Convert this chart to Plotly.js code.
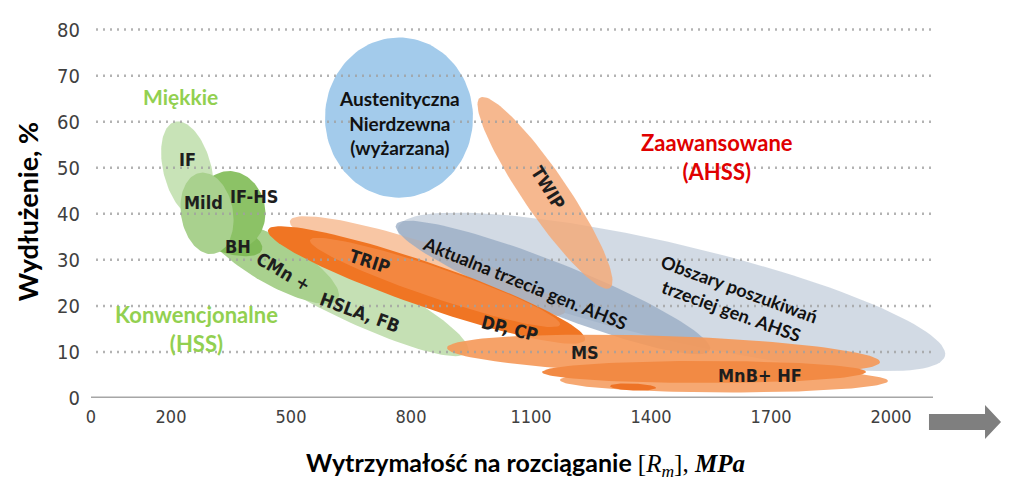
<!DOCTYPE html>
<html><head><meta charset="utf-8">
<script src="https://cdn.plot.ly/plotly-3.0.1.min.js"></script>
<style>html,body{margin:0;padding:0;background:#fff}#chart{width:1024px;height:496px}</style>
</head><body><div id="chart"></div>
<script>
// ---- data: steel grade regions (major-axis end points: tensile strength MPa, elongation %) ----
const regionNames = ["IF","HSLA, FB","CMn +","BH","IF-HS","Mild","Obszary 3. gen.","TRIP","Aktualna 3. gen.","DP, CP","TRIP core","TWIP","Austenityczna","MS","HF","MnB","MnB tail"];
const regionRm1   = [210, 310, 285, 247.5, 327.5, 272.5, 767.5, 497.5, 762.5, 442.5, 547.5, 972.5, 770, 890, 1172.5, 1127.5, 1297.5];
const regionA1    = [60, 37, 38.3, 37.4, 49.1, 48.9, 36.96, 38.5, 37.6, 36.5, 34.3, 65.2, 78.3, 10.9, 3.9, 5.65, 2.6];
const regionRm2   = [272.5, 942.5, 617.5, 427.5, 377.5, 307.5, 2135, 1185, 1547.5, 1235, 1172.5, 1297.5, 770, 1972.5, 1992.5, 1937.5, 1412.5];
const regionA2    = [39.1, 10, 21.5, 32.2, 32.6, 31.3, 9.13, 18.7, 10.4, 12.6, 15.9, 23.9, 43.5, 7.8, 3.7, 5.65, 2.2];

// ---- labels ----
const labelText = ["IF","Mild","IF-HS","BH","CMn +","HSLA, FB","TRIP","DP, CP","MS","MnB+ HF","TWIP"];
const labelRm   = [240, 280, 407.5, 367.5, 480, 672.5, 697.5, 1047.5, 1235, 1672.5, 1142.5];
const labelA    = [51.7, 42.4, 43.7, 33.0, 27.4, 18.5, 29.6, 15.2, 9.8, 4.8, 45.7];
const groupText = ["Austenityczna<br>Nierdzewna<br>(wyżarzana)","Aktualna trzecia gen. AHSS","Obszary poszukiwań<br>trzeciej gen. AHSS","Miękkie","Konwencjonalne<br>(HSS)","Zaawansowane<br>(AHSS)"];
const groupRm   = [770, 1085, 1610, 222.5, 262.5, 1565];
const groupA    = [59.8, 25, 21.3, 65.4, 15.0, 52.3];

const xTicks = [0,200,500,800,1100,1400,1700,2000];
const yTicks = [0,10,20,30,40,50,60,70,80];

// ---- styles ----
const regionHalfWidthPx = [24, 26, 23, 15, 33, 26, 48, 22, 25, 22, 15, 22, 74, 19, 12, 11, 3.5];
const regionColors = ["rgba(190,222,170,0.85)","#c5e0b4","#a9d18e","#80ba58","#8cc266","#a9d18e","rgba(205,214,225,0.9)","#f8c6a4","rgba(150,170,195,0.75)","#f07523","rgba(249,170,120,0.35)","rgba(244,168,118,0.82)","#a3cbeb","rgba(245,152,88,0.9)","#f6a872","#f28a44","#ee7326"];
const labelAngle = [0,0,0,0,30,20,18,14,0,0,58];
const groupAngle = [0,22,20,0,0,0];
const groupColor = ["#111","#111","#111","#92d050","#92d050","#e00000"];
const groupSize  = [19,18,18,21,22,22];

const M = {l:91, r:64, t:25, b:98};
const W = 1024, H = 496;
const xRange = [0, (W - M.l - M.r) * 2.5];
const yRange = [0, 81];
const kx = (W - M.l - M.r) / (xRange[1] - xRange[0]);
const ky = (H - M.t - M.b) / (yRange[1] - yRange[0]);

function ellipse(x1,y1,x2,y2,hw){
  const X1=x1*kx, Y1=y1*ky, X2=x2*kx, Y2=y2*ky;
  const cx=(X1+X2)/2, cy=(Y1+Y2)/2;
  const L=Math.hypot(X2-X1,Y2-Y1)/2, th=Math.atan2(Y2-Y1,X2-X1);
  const xs=[],ys=[];
  for(let i=0;i<=120;i++){
    const t=i/120*2*Math.PI;
    const px=cx+L*Math.cos(t)*Math.cos(th)-hw*Math.sin(t)*Math.sin(th);
    const py=cy+L*Math.cos(t)*Math.sin(th)+hw*Math.sin(t)*Math.cos(th);
    xs.push(px/kx); ys.push(py/ky);
  }
  return {xs,ys};
}

const traces = regionNames.map((n,i)=>{
  const e = ellipse(regionRm1[i],regionA1[i],regionRm2[i],regionA2[i],regionHalfWidthPx[i]);
  return {type:'scatter',mode:'lines',x:e.xs,y:e.ys,fill:'toself',fillcolor:regionColors[i],
    line:{width:0,color:'rgba(0,0,0,0)'},name:n,hoverinfo:'skip',showlegend:false};
});

const narrow = "DejaVu Sans Condensed, Liberation Sans Narrow, Arial Narrow, Liberation Sans, Arial, sans-serif";
const cal = "Lato, Carlito, Calibri, Open Sans, sans-serif";

const annotations = [];
labelText.forEach((t,i)=>annotations.push({x:labelRm[i],y:labelA[i],xref:'x',yref:'y',text:'<b>'+t+'</b>',showarrow:false,textangle:labelAngle[i],font:{family:narrow,size:18,color:'#1e1e1e'}}));
groupText.forEach((t,i)=>annotations.push({x:groupRm[i],y:groupA[i],xref:'x',yref:'y',text:'<b>'+t+'</b>',showarrow:false,textangle:groupAngle[i],font:{family:cal,size:groupSize[i],color:groupColor[i]},align:'center'}));

const shapes = [];
yTicks.filter(v=>v>0).forEach(v=>shapes.push({type:'line',xref:'x',yref:'y',x0:-5,x1:2105,y0:v,y1:v,layer:'above',line:{color:'rgba(160,160,160,0.8)',width:2.5,dash:'2px,5px'}}));
shapes.push({type:'line',xref:'x',yref:'y',x0:0,x1:2105,y0:0,y1:0,layer:'above',line:{color:'#a6a6a6',width:3}});
// arrow at the end of the x axis (paper coords)
const pw = W - M.l - M.r, ph = H - M.t - M.b;
const P = (px,py)=> ((px-M.l)/pw).toFixed(4)+','+((H-M.b-py)/ph).toFixed(4);
shapes.push({type:'path',xref:'paper',yref:'paper',layer:'above',fillcolor:'#7f7f7f',line:{width:0},
  path:'M'+P(929,414)+' L'+P(985,414)+' L'+P(985,405)+' L'+P(1001,422)+' L'+P(985,439)+' L'+P(985,430)+' L'+P(929,430)+' Z'});

const layout = {
  width:W, height:H, margin:M, paper_bgcolor:'#fff', plot_bgcolor:'#fff',
  xaxis:{range:xRange, tickvals:xTicks, ticktext:xTicks.map(String), showgrid:false, zeroline:false, showline:false,
    ticks:'', ticklabelstandoff:6, tickfont:{family:narrow,size:18,color:'#404040'},
    title:{text:'<b>Wytrzymałość na rozciąganie </b><span style="font-family:Liberation Serif">[<i>R</i><sub><i>m</i></sub>], <b><i>MPa</i></b></span>', font:{family:cal,size:25,color:'#000'}, standoff:28}},
  yaxis:{range:yRange, tickvals:yTicks, showgrid:false, zeroline:false, showline:false, ticks:'', ticklabelstandoff:10,
    tickfont:{family:narrow,size:20,color:'#404040'},
    title:{text:'<b>Wydłużenie, %</b>', font:{family:cal,size:27,color:'#000'}, standoff:10}},
  shapes, annotations, showlegend:false
};
Plotly.newPlot('chart', traces, layout, {staticPlot:true});
</script></body></html>
